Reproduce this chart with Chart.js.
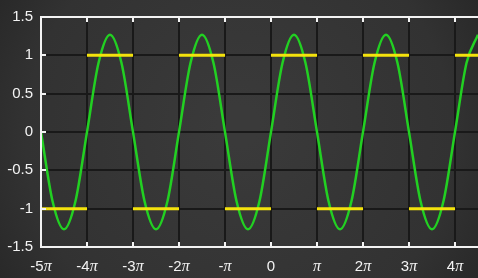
<!DOCTYPE html>
<html>
<head>
<meta charset="utf-8">
<script src="https://cdn.jsdelivr.net/npm/chart.js@4"></script>
<style>
  html, body { margin: 0; padding: 0; background: #2e2e2e; overflow: hidden; }
  canvas { display: block; }
</style>
</head>
<body>
<canvas id="waveChart" width="478" height="278"></canvas>
<script>
// x values are in units of pi
const xTicks = [-5, -4, -3, -2, -1, 0, 1, 2, 3, 4];
const xTickLabels = ['-5π', '-4π', '-3π', '-2π', '-π', '0', 'π', '2π', '3π', '4π'];
const yTicks = [-1.5, -1, -0.5, 0, 0.5, 1, 1.5];

// green curve (first harmonic), every quarter pi
const waveX = [-5, -4.75, -4.5, -4.25, -4, -3.75, -3.5, -3.25,
               -3, -2.75, -2.5, -2.25, -2, -1.75, -1.5, -1.25,
               -1, -0.75, -0.5, -0.25, 0, 0.25, 0.5, 0.75,
               1, 1.25, 1.5, 1.75, 2, 2.25, 2.5, 2.75,
               3, 3.25, 3.5, 3.75, 4, 4.25, 4.5];
const waveY = [0, -0.9, -1.27, -0.9, 0, 0.9, 1.27, 0.9,
               0, -0.9, -1.27, -0.9, 0, 0.9, 1.27, 0.9,
               0, -0.9, -1.27, -0.9, 0, 0.9, 1.27, 0.9,
               0, -0.9, -1.27, -0.9, 0, 0.9, 1.27, 0.9,
               0, -0.9, -1.27, -0.9, 0, 0.9, 1.27];

// yellow square wave segments
const squareStart = [-5, -4, -3, -2, -1, 0, 1, 2, 3, 4];
const squareEnd   = [-4, -3, -2, -1, 0, 1, 2, 3, 4, 4.5];
const squareLevel = [-1, 1, -1, 1, -1, 1, -1, 1, -1, 1];

const wavePoints = waveX.map((x, i) => ({ x: x, y: waveY[i] }));
const squarePoints = [];
squareStart.forEach((s, i) => {
  squarePoints.push({ x: s, y: squareLevel[i] });
  squarePoints.push({ x: squareEnd[i], y: squareLevel[i] });
  squarePoints.push({ x: squareEnd[i], y: null });
});

const chalk = '#f3f3f3';
const gridDark = '#191919';

// chalkboard background
const boardPlugin = {
  id: 'board',
  beforeDraw(chart) {
    const ctx = chart.ctx;
    const w = chart.width, h = chart.height;
    ctx.save();
    const g = ctx.createRadialGradient(w * 0.5, h * 0.45, 20, w * 0.5, h * 0.5, w * 0.62);
    g.addColorStop(0, '#3a3a3a');
    g.addColorStop(0.7, '#323232');
    g.addColorStop(1, '#262626');
    ctx.fillStyle = g;
    ctx.fillRect(0, 0, w, h);
    ctx.restore();
  }
};

// white frame, inward ticks and pi labels
const framePlugin = {
  id: 'frame',
  afterDatasetsDraw(chart) {
    const ctx = chart.ctx;
    const a = chart.chartArea;
    const xs = chart.scales.x, ys = chart.scales.y;
    ctx.save();
    ctx.strokeStyle = chalk;
    ctx.lineWidth = 2;
    ctx.beginPath();
    ctx.moveTo(chart.width, a.top); ctx.lineTo(a.left, a.top);
    ctx.lineTo(a.left, a.bottom); ctx.lineTo(chart.width, a.bottom);
    ctx.stroke();

    ctx.beginPath();
    xTicks.forEach(v => {
      if (v === xs.min) return;
      const px = Math.round(xs.getPixelForValue(v));
      ctx.moveTo(px, a.top); ctx.lineTo(px, a.top + 5);
      ctx.moveTo(px, a.bottom); ctx.lineTo(px, a.bottom - 5);
    });
    yTicks.forEach(v => {
      if (v === ys.min || v === ys.max) return;
      const py = Math.round(ys.getPixelForValue(v));
      ctx.moveTo(a.left, py); ctx.lineTo(a.left + 5, py);
    });
    ctx.stroke();

    // x labels: digits in sans, pi in italic serif
    const numFont = '15px "Liberation Sans", Arial, sans-serif';
    const piFont = 'italic 16px "Liberation Serif", "DejaVu Serif", serif';
    ctx.fillStyle = chalk;
    ctx.textBaseline = 'alphabetic';
    ctx.textAlign = 'left';
    xTicks.forEach((v, i) => {
      const label = xTickLabels[i];
      const hasPi = label.endsWith('π');
      const num = hasPi ? label.slice(0, -1) : label;
      ctx.font = numFont;
      const wNum = ctx.measureText(num).width;
      let wPi = 0;
      if (hasPi) { ctx.font = piFont; wPi = ctx.measureText('π').width; }
      const cx = xs.getPixelForValue(v);
      let x0 = cx - (wNum + wPi) / 2;
      const base = a.bottom + 24;
      ctx.font = numFont;
      ctx.fillText(num, x0, base);
      if (hasPi) { ctx.font = piFont; ctx.fillText('π', x0 + wNum, base); }
    });
    ctx.restore();
  }
};

new Chart(document.getElementById('waveChart'), {
  type: 'line',
  data: {
    datasets: [
      {
        label: 'square',
        data: squarePoints,
        borderColor: '#f4e20c',
        borderWidth: 3,
        pointRadius: 0,
        tension: 0,
        spanGaps: false,
        order: 0
      },
      {
        label: 'wave',
        data: wavePoints,
        borderColor: '#22d022',
        borderWidth: 2.5,
        pointRadius: 0,
        cubicInterpolationMode: 'monotone',
        order: 1
      }
    ]
  },
  options: {
    responsive: false,
    animation: false,
    layout: { padding: { top: 17, left: 0, right: 0, bottom: 0 } },
    plugins: {
      legend: { display: false },
      tooltip: { enabled: false }
    },
    scales: {
      x: {
        type: 'linear',
        min: -5,
        max: 4.5,
        afterBuildTicks: s => { s.ticks = xTicks.map(v => ({ value: v })); },
        afterFit: s => { s.height = 31; },
        ticks: { display: false },
        border: { display: false },
        grid: { color: gridDark, lineWidth: 2, drawTicks: false }
      },
      y: {
        min: -1.5,
        max: 1.5,
        afterBuildTicks: s => { s.ticks = yTicks.map(v => ({ value: v })); },
        afterFit: s => { s.width = 41; },
        ticks: {
          color: chalk,
          padding: 8,
          font: { family: '"Liberation Sans", Arial, sans-serif', size: 15 },
          callback: v => String(v)
        },
        border: { display: false },
        grid: { color: gridDark, lineWidth: 2, drawTicks: false }
      }
    }
  },
  plugins: [boardPlugin, framePlugin]
});
</script>
</body>
</html>
